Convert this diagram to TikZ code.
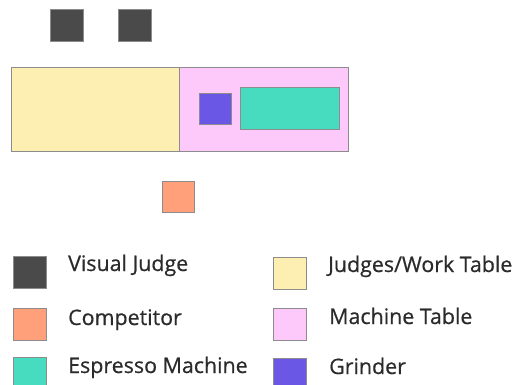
\documentclass[tikz,border=0pt]{standalone}
\usepackage{fontspec}
\setmainfont{Open Sans}
\newfontfamily\legendfont{Open Sans}[FakeBold=0.6]
\usepackage{xcolor}
\definecolor{judgegray}{HTML}{4A4A4A}
\definecolor{worktable}{HTML}{FDEFB2}
\definecolor{machtable}{HTML}{FDC9FB}
\definecolor{espresso}{HTML}{47DBC0}
\definecolor{grinder}{HTML}{6B57E6}
\definecolor{competitor}{HTML}{FFA07A}
\definecolor{legendtext}{HTML}{2B2B2B}

\begin{document}
\begin{tikzpicture}[x=1pt,y=-1pt,
    piece/.style={draw=black!45, line width=0.8pt},
    label/.style={anchor=base west, inner sep=0pt, text=legendtext,
        font=\legendfont\fontsize{21.4}{25}\selectfont}]
    \useasboundingbox (0,0) rectangle (517,385);
    % floor plan
    \draw [piece, fill=judgegray] (50,9) rectangle (83,41);
    \draw [piece, fill=judgegray] (118,9) rectangle (151,41);
    \draw [piece, fill=worktable] (11,67) rectangle (179,151);
    \draw [piece, fill=machtable] (179,67) rectangle (348,151);
    \draw [piece, fill=grinder] (199,93) rectangle (231,124);
    \draw [piece, fill=espresso] (240,87) rectangle (339,129);
    \draw [piece, fill=competitor] (162,181) rectangle (194,212);
    % legend
    \draw [piece, fill=judgegray] (13,256) rectangle (46,288);
    \node [label] (lJudge) at (68,271) {Visual Judge};
    \draw [piece, fill=competitor] (13,308) rectangle (46,340);
    \node [label] (lComp) at (68,325) {Competitor};
    \draw [piece, fill=espresso] (13,357) rectangle (46,389);
    \node [label] (lEsp) at (68,373) {Espresso Machine};
    \draw [piece, fill=worktable] (273,257) rectangle (306,289);
    \node [label] (lWork) at (328,272) {Judges/Work Table};
    \draw [piece, fill=machtable] (273,308) rectangle (306,340);
    \node [label] (lMach) at (329,324) {Machine Table};
    \draw [piece, fill=grinder] (273,358) rectangle (306,390);
    \node [label] (lGrind) at (329,374) {Grinder};
\end{tikzpicture}
\end{document}
